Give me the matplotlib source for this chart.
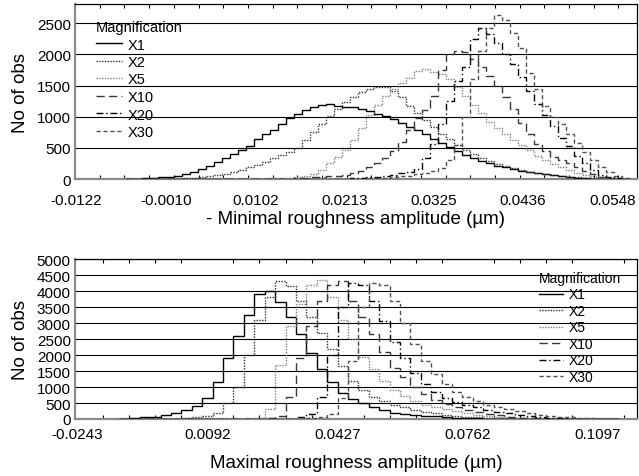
import numpy as np
import matplotlib
matplotlib.use("Agg")
import matplotlib.pyplot as plt
from matplotlib.ticker import FixedLocator

plt.rcParams['font.family'] = ['Liberation Sans', 'DejaVu Sans']

# ---------------- data ----------------
series_names = ["X1", "X2", "X5", "X10", "X20", "X30"]

# Top panel: - Minimal roughness amplitude, bins of width 0.001 starting at -0.006 (63 bins)
top_bin_start = -0.006
top_bin_width = 0.001
top_x1 = [3, 8, 12, 18, 25, 35, 55, 80, 120, 165, 215, 270, 330, 400, 460, 530, 640, 720, 790, 880,
          980, 1050, 1110, 1160, 1190, 1200, 1180, 1160, 1150, 1120, 1090, 1050, 1010, 960, 900, 840,
          780, 720, 640, 580, 510, 450, 390, 340, 290, 250, 215, 185, 160, 135, 115, 95, 75, 58, 42,
          30, 20, 12, 7, 4, 2, 0, 0]
top_x2 = [0, 0, 0, 0, 1, 2, 5, 10, 18, 28, 42, 60, 85, 115, 150, 190, 230, 280, 330, 380,
          430, 500, 620, 760, 880, 1010, 1130, 1240, 1320, 1390, 1440, 1470, 1480, 1420, 1310, 1180,
          1060, 950, 840, 730, 640, 550, 470, 400, 340, 290, 245, 210, 175, 145, 120, 100, 80, 65, 50,
          38, 26, 16, 9, 4, 2, 0, 0]
top_x5 = [0, 0, 0, 0, 0, 0, 0, 0, 0, 0, 0, 0, 1, 1, 2, 2, 3, 6, 10, 16,
          24, 35, 50, 80, 150, 250, 350, 460, 620, 820, 1020, 1190, 1330, 1450, 1540, 1620,
          1730, 1760, 1720, 1680, 1600, 1470, 1330, 1190, 1060, 920, 820, 720, 630, 550, 460, 370,
          300, 240, 190, 140, 100, 70, 45, 25, 12, 5, 0]
top_x10 = [0, 0, 0, 0, 0, 0, 0, 0, 0, 0, 0, 0, 0, 0, 0, 1, 1, 2, 2, 3,
           6, 10, 16, 25, 40, 50, 55, 60, 90, 130, 190, 260, 340, 450, 600, 780,
           980, 1100, 1330, 1750, 2000, 2050, 2040, 1930, 1800, 1660, 1490, 1310, 1120, 900, 720,
           570, 450, 360, 300, 250, 200, 130, 80, 40, 15, 5, 0]
top_x20 = [0, 0, 0, 0, 0, 0, 0, 0, 0, 0, 0, 0, 0, 0, 0, 0, 0, 0, 0, 0,
           0, 0, 0, 0, 0, 3, 5, 8, 12, 18, 25, 35, 50, 70, 95, 120,
           160, 330, 560, 880, 1250, 1570, 1800, 2250, 2430, 2330, 2180, 2000, 1850, 1640, 1420,
           1200, 1030, 850, 660, 530, 370, 250, 150, 70, 30, 10, 0]
top_x30 = [0, 0, 0, 0, 0, 0, 0, 0, 0, 0, 0, 0, 0, 0, 0, 0, 0, 0, 0, 0,
           0, 0, 0, 0, 0, 0, 0, 0, 3, 6, 10, 15, 22, 30, 42, 55,
           75, 100, 130, 170, 300, 550, 1000, 1600, 2050, 2420, 2640, 2560, 2350, 2100, 1700,
           1450, 1180, 1000, 880, 720, 580, 440, 300, 190, 110, 45, 10]

# Bottom panel: Maximal roughness amplitude, bins of width 0.00268 starting at -0.01358 (48 bins)
bot_bin_start = -0.01358
bot_bin_width = 0.00268
bot_x1 = [15, 35, 50, 75, 110, 180, 290, 420, 650, 1150, 1900, 2600, 3250, 3900, 4000, 3650,
          3200, 2650, 2050, 1550, 1160, 800, 620, 500, 370, 270, 200, 160, 130, 100, 80, 60,
          45, 30, 20, 12, 8, 5, 3, 2, 1, 0, 0, 0, 0, 0, 0, 0]
bot_x2 = [0, 1, 2, 3, 5, 15, 35, 60, 100, 200, 500, 1000, 2000, 3100, 3800, 4300,
          4150, 3700, 3200, 2700, 2200, 1650, 1200, 900, 700, 560, 450, 370, 290, 230, 180, 130,
          100, 75, 55, 40, 28, 18, 12, 8, 5, 3, 2, 1, 0, 0, 0, 0]
bot_x5 = [0, 0, 0, 0, 0, 0, 0, 1, 2, 4, 6, 8, 10, 40, 300, 1700,
          2900, 3600, 4200, 4350, 3800, 3100, 2500, 1950, 1550, 1200, 900, 720, 560, 450, 380, 300,
          240, 180, 130, 95, 70, 50, 35, 25, 15, 10, 5, 3, 1, 0, 0, 0]
bot_x10 = [0, 0, 0, 0, 0, 0, 1, 1, 2, 2, 3, 5, 8, 12, 20, 100,
           700, 1900, 2900, 3700, 4200, 4300, 3700, 3200, 2650, 2100, 1600, 1300, 1000, 780, 600, 460,
           360, 280, 210, 150, 110, 70, 45, 30, 20, 12, 8, 5, 3, 1, 0, 0]
bot_x20 = [0, 0, 0, 0, 0, 0, 0, 0, 0, 0, 1, 2, 3, 5, 7, 8,
           10, 50, 150, 700, 2000, 3500, 4250, 4200, 3700, 3050, 2400, 1900, 1450, 1100, 850, 660,
           540, 450, 360, 290, 230, 180, 130, 90, 60, 40, 25, 15, 8, 4, 2, 0]
bot_x30 = [0, 0, 0, 0, 0, 0, 0, 0, 0, 0, 1, 2, 3, 3, 4, 4,
           5, 10, 20, 50, 150, 650, 1800, 3500, 4250, 4200, 3700, 3000, 2350, 1800, 1400, 1100,
           850, 700, 560, 450, 380, 310, 250, 190, 140, 100, 70, 50, 35, 20, 10, 5]

top_ticks = [-0.0122, -0.0010, 0.0102, 0.0213, 0.0325, 0.0436, 0.0548]
top_yticks = [0, 500, 1000, 1500, 2000, 2500]
bot_ticks = [-0.0243, 0.0092, 0.0427, 0.0762, 0.1097]
bot_yticks = list(range(0, 5001, 500))

# ---------------- styles ----------------
styles = [
    dict(color="black", linestyle="-"),
    dict(color="#303030", linestyle=(0, (1, 1))),
    dict(color="#808080", linestyle=(0, (1, 1))),
    dict(color="#383838", linestyle=(0, (6, 3))),
    dict(color="black", linestyle=(0, (5, 2, 1, 2))),
    dict(color="#505050", linestyle=(0, (3, 2))),
]

W, H = 639, 477
fig = plt.figure(figsize=(W / 100, H / 100), dpi=100)


def make_axes(l, t, r, b):
    return fig.add_axes([l / W, 1 - b / H, (r - l) / W, (b - t) / H])


ax1 = make_axes(75, 5, 637, 180)
ax2 = make_axes(75, 260, 637, 420)


def style_axes(ax, xlim, ylim, xticks, yticks, minor, xpad):
    ax.set_xlim(*xlim)
    ax.set_ylim(*ylim)
    ax.set_xticks(xticks)
    ax.set_xticklabels([f"{v:.4f}" for v in xticks])
    ax.set_yticks(yticks)
    ax.set_yticklabels([str(v) for v in yticks])
    ax.xaxis.set_minor_locator(FixedLocator(minor))
    ax.tick_params(axis="x", which="major", length=0, labelsize=11, pad=xpad)
    ax.tick_params(axis="x", which="minor", length=3, direction="in", top=True, bottom=True,
                   color="black", width=0.8)
    ax.tick_params(axis="y", which="major", length=0, labelsize=11, pad=3)
    for y in yticks[1:]:
        ax.axhline(y, color="black", lw=0.8, zorder=1)
    ax.spines["left"].set_color("#8a8a8a")
    ax.spines["bottom"].set_color("#8a8a8a")
    ax.spines["left"].set_linewidth(1.6)
    ax.spines["bottom"].set_linewidth(1.6)
    ax.spines["top"].set_linewidth(0.9)
    ax.spines["right"].set_linewidth(0.9)


top_series = [top_x1, top_x2, top_x5, top_x10, top_x20, top_x30]
top_edges = top_bin_start + top_bin_width * np.arange(len(top_x1) + 1)
for name, vals, st in zip(series_names, top_series, styles):
    ax1.stairs(vals, top_edges, label=name, lw=1.0, zorder=3, **st)

bot_series = [bot_x1, bot_x2, bot_x5, bot_x10, bot_x20, bot_x30]
bot_edges = bot_bin_start + bot_bin_width * np.arange(len(bot_x1) + 1)
for name, vals, st in zip(series_names, bot_series, styles):
    ax2.stairs(vals, bot_edges, label=name, lw=1.0, zorder=3, **st)

style_axes(ax1, (-0.0124, 0.0579), (0, 2810), top_ticks, top_yticks,
           np.arange(-0.0124 + 0.00309, 0.0579, 0.00309), xpad=10)
style_axes(ax2, (-0.0249, 0.1198), (0, 5000), bot_ticks, bot_yticks,
           np.arange(-0.0243 + 0.0067, 0.1198, 0.0067), xpad=6)

ax1.set_xlabel("- Minimal roughness amplitude (µm)", fontsize=13.5, labelpad=2)
ax1.set_ylabel("No of obs", fontsize=13.5)
ax2.set_xlabel("Maximal roughness amplitude (µm)", fontsize=13.5, labelpad=9)
ax2.set_ylabel("No of obs", fontsize=13.5)
ax1.yaxis.set_label_coords(-0.081, 0.5)
ax2.yaxis.set_label_coords(-0.081, 0.5)

leg1 = ax1.legend(title="Magnification", loc="upper left", bbox_to_anchor=(96 / W, 1 - 21 / H),
                  bbox_transform=fig.transFigure, frameon=False, fontsize=10.5, title_fontsize=10.5,
                  handlelength=1.75, handletextpad=0.4, labelspacing=0.24, borderpad=0,
                  borderaxespad=0, alignment="left")
leg2 = ax2.legend(title="Magnification", loc="upper left", bbox_to_anchor=(539 / W, 1 - 272 / H),
                  bbox_transform=fig.transFigure, frameon=False, fontsize=10, title_fontsize=10,
                  handlelength=1.75, handletextpad=0.4, labelspacing=0.18, borderpad=0,
                  borderaxespad=0, alignment="left")
for leg in (leg1, leg2):
    leg.set_zorder(5)

fig.savefig("out.png", dpi=100)
